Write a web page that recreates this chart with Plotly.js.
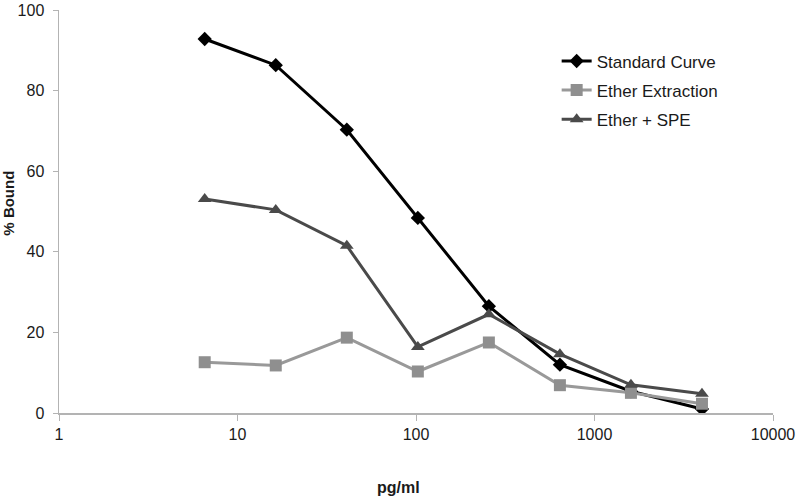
<!DOCTYPE html>
<html>
<head>
<meta charset="utf-8">
<script src="https://cdn.plot.ly/plotly-3.0.1.min.js"></script>
<style>
  html, body { margin: 0; padding: 0; background: #fff; }
  #chart { width: 797px; height: 496px; }
</style>
</head>
<body>
<div id="chart"></div>
<script>
// concentraciones (pg/ml), diluciones 1:2.5
const concentracion = [6.55, 16.38, 40.96, 102.4, 256, 640, 1600, 4000];

// % Bound por serie
const curvaEstandar = [92.8, 86.3, 70.3, 48.4, 26.5, 12.0, 5.4, 1.0];
const extraccionEter = [12.6, 11.8, 18.7, 10.3, 17.5, 6.9, 5.0, 2.3];
const eterSPE = [53.1, 50.4, 41.5, 16.4, 24.5, 14.6, 7.0, 4.8];

const nombres = ['Standard Curve', 'Ether Extraction', 'Ether + SPE'];

const xTicks = [1, 10, 100, 1000, 10000];
const xTickText = ['1', '10', '100', '1000', '10000'];
const yTicks = [0, 20, 40, 60, 80, 100];

const trazas = [
    {
        x: concentracion,
        y: curvaEstandar,
        type: 'scatter',
        mode: 'lines+markers',
        name: nombres[0],
        legendgroup: 'a',
        line: { color: '#000000', width: 3 },
        marker: { symbol: 'diamond', size: 11, color: '#000000' }
    },
    {
        x: concentracion,
        y: extraccionEter,
        type: 'scatter',
        mode: 'lines+markers',
        name: nombres[1],
        legendgroup: 'b',
        line: { color: '#999999', width: 3 },
        marker: { symbol: 'square', size: 12, color: '#8f8f8f' }
    },
    {
        x: concentracion,
        y: eterSPE,
        type: 'scatter',
        mode: 'lines+markers',
        name: nombres[2],
        legendgroup: 'c',
        line: { color: '#4a4a4a', width: 3 },
        marker: { symbol: 'triangle-up', size: 12, color: '#4a4a4a' }
    }
];

const fuente = 'Arial, "Liberation Sans", sans-serif';

const layout = {
    width: 797,
    height: 496,
    paper_bgcolor: '#ffffff',
    plot_bgcolor: '#ffffff',
    font: { family: fuente, color: '#1a1a1a', size: 16 },
    margin: { l: 59, r: 24, t: 10, b: 83 },
    showlegend: true,
    legend: {
        x: 0.697,
        y: 0.917,
        xanchor: 'left',
        yanchor: 'top',
        bgcolor: 'rgba(0,0,0,0)',
        font: { family: fuente, size: 17, color: '#1a1a1a' },
        tracegroupgap: 4,
        itemwidth: 30
    },
    xaxis: {
        type: 'log',
        range: [0, 4],
        tickvals: xTicks,
        ticktext: xTickText,
        ticks: 'outside',
        ticklen: 6,
        tickcolor: '#b3b3b3',
        showgrid: false,
        zeroline: false,
        showline: true,
        linecolor: '#b3b3b3',
        linewidth: 1.5,
        tickfont: { family: fuente, size: 16, color: '#1a1a1a' }
    },
    yaxis: {
        range: [0, 100],
        tickvals: yTicks,
        ticks: 'outside',
        ticklen: 5,
        tickcolor: '#b3b3b3',
        ticklabelstandoff: 5,
        ticklabeloverflow: 'allow',
        showgrid: false,
        zeroline: false,
        showline: true,
        linecolor: '#b3b3b3',
        linewidth: 1.5,
        tickfont: { family: fuente, size: 16, color: '#1a1a1a' }
    },
    annotations: [
        {
            text: '<b>pg/ml</b>',
            xref: 'paper', yref: 'paper',
            x: 0.476, y: -0.186,
            xanchor: 'center', yanchor: 'middle',
            showarrow: false,
            font: { family: fuente, size: 16, color: '#1a1a1a' }
        },
        {
            text: '<b>% Bound</b>',
            xref: 'paper', yref: 'paper',
            x: -0.072, y: 0.521,
            xanchor: 'center', yanchor: 'middle',
            textangle: -90,
            showarrow: false,
            font: { family: fuente, size: 15, color: '#1a1a1a' }
        }
    ]
};

Plotly.newPlot('chart', trazas, layout, { displayModeBar: false, staticPlot: true });
</script>
</body>
</html>
